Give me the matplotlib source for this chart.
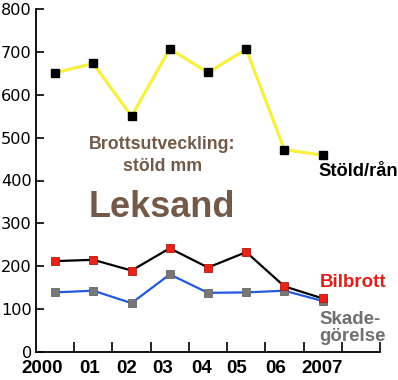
import matplotlib
matplotlib.use("Agg")
import matplotlib.pyplot as plt
import numpy as np

years = ["2000", "01", "02", "03", "04", "05", "06", "2007"]
stold = [651, 673, 550, 707, 652, 706, 472, 459]
bilbrott = [212, 215, 190, 242, 197, 233, 153, 125]
skade = [139, 143, 114, 181, 138, 139, 143, 119]
yticks = [0, 100, 200, 300, 400, 500, 600, 700, 800]

brown = "#735a48"
fig = plt.figure(figsize=(3.98, 3.80), dpi=100)
ax = fig.add_axes([36/398, 1-352/380, 344/398, 343/380])

x = np.arange(len(years)) + 0.5
ax.plot(x, stold, color="#f8f040", lw=2.3, marker="s", ms=5.8, mfc="black", mec="black", zorder=3)
ax.plot(x, bilbrott, color="black", lw=1.6, marker="s", ms=5.8, mfc="#e8231a", mec="#b01810", mew=0.6, zorder=3)
ax.plot(x, skade, color="#2458e0", lw=1.6, marker="s", ms=5.8, mfc="#777777", mec="#666666", mew=0.6, zorder=2)

ax.set_xlim(0, 9)
ax.set_ylim(0, 800)
for s in ["top", "right"]:
    ax.spines[s].set_visible(False)
for s in ["left", "bottom"]:
    ax.spines[s].set_linewidth(1.3)

ax.set_yticks(yticks)
ax.set_yticklabels([str(v) for v in yticks], fontsize=11.6, family="DejaVu Sans")
ax.tick_params(axis="y", direction="in", length=6, width=1.2, pad=3)

label_offsets = [-0.34, -0.1, -0.12, -0.18, -0.16, -0.26, -0.24, -0.02]
ax.set_xticks(x + np.array(label_offsets))
ax.set_xticklabels(years, fontsize=13.5, fontweight="bold", family="Liberation Sans")
ax.tick_params(axis="x", length=0, pad=6)
ax.set_xticks(np.arange(1, 10), minor=True)
ax.tick_params(axis="x", which="minor", direction="in", length=7, width=1.2)

ax.text(3.3, 0.605, "Brottsutveckling:", transform=ax.get_xaxis_transform(),
        ha="center", va="center", fontsize=12.8, fontweight="bold", color=brown,
        family="Liberation Sans")
ax.text(3.3, 0.542, "stöld mm", transform=ax.get_xaxis_transform(),
        ha="center", va="center", fontsize=12.8, fontweight="bold", color=brown,
        family="Liberation Sans")
ax.text(3.3, 0.42, "Leksand", transform=ax.get_xaxis_transform(),
        ha="center", va="center", fontsize=26, fontweight="bold", color=brown,
        family="Liberation Sans")
ax.text(7.38, 459 - 37, "Stöld/rån", ha="left", va="center", fontsize=13.2, fontweight="bold",
        color="black", family="Liberation Sans")
ax.text(7.43, 125 + 36, "Bilbrott", ha="left", va="center", fontsize=13.5, fontweight="bold",
        color="#e02018", family="Liberation Sans")
ax.text(7.41, 119 - 62, "Skade-\ngörelse", ha="left", va="center", fontsize=13.5, fontweight="bold",
        color="#707070", family="Liberation Sans", linespacing=1.0)

fig.savefig("out.png", dpi=100)
